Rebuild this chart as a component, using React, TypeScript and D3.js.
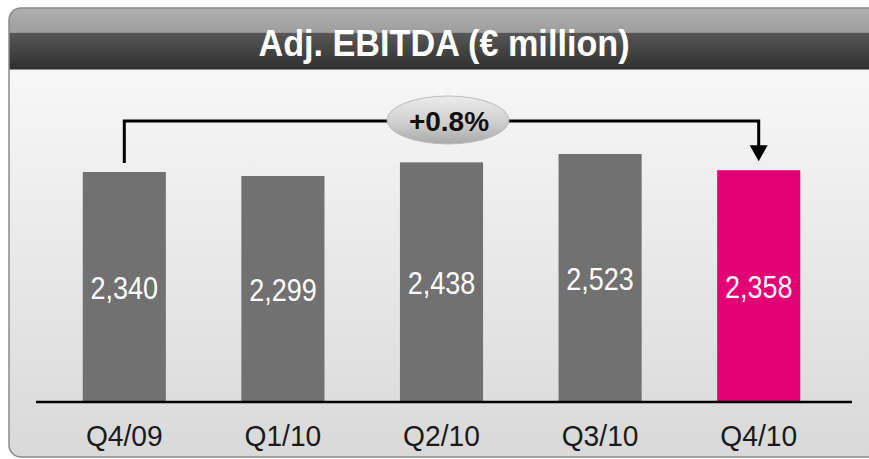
import { useEffect, useRef } from "react";
import { axisBottom, scaleBand, scaleLinear, select, format } from "d3";

const categories = ["Q4/09", "Q1/10", "Q2/10", "Q3/10", "Q4/10"];
const values = [2340, 2299, 2438, 2523, 2358];
const changeLabel = "+0.8%";
const title = "Adj. EBITDA (€ million)";

const WIDTH = 869;
const HEIGHT = 459;
const SANS = "'Liberation Sans', Arial, sans-serif";

export default function App() {
  const svgRef = useRef<SVGSVGElement | null>(null);

  const drawChart = () => {
    const svg = select(svgRef.current);
    svg.selectAll("*").remove();

    const defs = svg.append("defs");

    const bg = defs
      .append("linearGradient")
      .attr("id", "bg")
      .attr("x1", 0)
      .attr("y1", 0)
      .attr("x2", 0)
      .attr("y2", 1);
    bg.append("stop").attr("offset", "0%").attr("stop-color", "#fcfcfc");
    bg.append("stop").attr("offset", "100%").attr("stop-color", "#d9d9d9");

    const head = defs
      .append("linearGradient")
      .attr("id", "head")
      .attr("x1", 0)
      .attr("y1", 0)
      .attr("x2", 0)
      .attr("y2", 1);
    head.append("stop").attr("offset", "0%").attr("stop-color", "#b0b0b0");
    head.append("stop").attr("offset", "40%").attr("stop-color", "#9e9e9e");
    head.append("stop").attr("offset", "41%").attr("stop-color", "#575757");
    head.append("stop").attr("offset", "100%").attr("stop-color", "#303030");

    const pill = defs
      .append("linearGradient")
      .attr("id", "pill")
      .attr("x1", 0)
      .attr("y1", 0)
      .attr("x2", 0)
      .attr("y2", 1);
    pill.append("stop").attr("offset", "0%").attr("stop-color", "#ececec");
    pill.append("stop").attr("offset", "55%").attr("stop-color", "#cfcfcf");
    pill.append("stop").attr("offset", "100%").attr("stop-color", "#a9a9a9");

    defs
      .append("clipPath")
      .attr("id", "frameClip")
      .append("rect")
      .attr("x", 9)
      .attr("y", 8)
      .attr("width", 880)
      .attr("height", 449)
      .attr("rx", 12);

    // frame
    svg
      .append("rect")
      .attr("x", 9)
      .attr("y", 8)
      .attr("width", 880)
      .attr("height", 449)
      .attr("rx", 12)
      .attr("fill", "url(#bg)");

    // title bar
    svg
      .append("rect")
      .attr("x", 9)
      .attr("y", 8)
      .attr("width", 880)
      .attr("height", 61)
      .attr("fill", "url(#head)")
      .attr("clip-path", "url(#frameClip)");
    svg
      .append("line")
      .attr("x1", 9)
      .attr("x2", 880)
      .attr("y1", 69)
      .attr("y2", 69)
      .attr("stroke", "#2a2a2a")
      .attr("stroke-width", 1);
    svg
      .append("rect")
      .attr("x", 9)
      .attr("y", 8)
      .attr("width", 880)
      .attr("height", 449)
      .attr("rx", 12)
      .attr("fill", "none")
      .attr("stroke", "#8a8a8a")
      .attr("stroke-width", 1.5);

    svg
      .append("text")
      .attr("transform", "translate(444,56) scale(0.95,1)")
      .attr("text-anchor", "middle")
      .attr("fill", "#fff")
      .style("font-family", SANS)
      .style("font-weight", "bold")
      .style("font-size", "36px")
      .text(title);

    // scales
    const x = scaleBand<string>()
      .domain(categories)
      .range([45, 838])
      .paddingInner(0.476)
      .paddingOuter(0.238);
    const baseY = 402;
    const y = scaleLinear().domain([0, 2523]).range([baseY, 154]);
    const fmt = format(",");

    const g = svg.append("g");

    g.selectAll(".bar")
      .data(values)
      .enter()
      .append("rect")
      .attr("class", "bar")
      .attr("x", (_, i) => x(categories[i]) || 0)
      .attr("y", (d) => y(d))
      .attr("width", x.bandwidth())
      .attr("height", (d) => baseY - y(d))
      .attr("fill", (_, i) => (i === values.length - 1 ? "#e20074" : "#717171"));

    g.selectAll(".val")
      .data(values)
      .enter()
      .append("text")
      .attr("class", "val")
      .attr(
        "transform",
        (d, i) =>
          `translate(${(x(categories[i]) || 0) + x.bandwidth() / 2},${(y(d) + baseY) / 2 + 12}) scale(0.87,1)`
      )
      .attr("text-anchor", "middle")
      .attr("fill", "#fff")
      .style("font-family", SANS)
      .style("font-size", "31px")
      .text((d) => fmt(d));

    // x axis
    const xAxis = g
      .append("g")
      .attr("transform", `translate(0, ${baseY})`)
      .call(axisBottom(x).tickSize(0).tickPadding(23));
    xAxis.select(".domain").remove();
    xAxis
      .selectAll(".tick text")
      .attr("fill", "#1a1a1a")
      .attr("transform", "scale(0.94,1)")
      .style("font-family", SANS)
      .style("font-size", "30px");
    g.append("line")
      .attr("x1", 36)
      .attr("x2", 852)
      .attr("y1", baseY)
      .attr("y2", baseY)
      .attr("stroke", "#000")
      .attr("stroke-width", 2.5);

    // change bracket
    const first = values[0];
    const last = values[values.length - 1];
    const x0 = (x(categories[0]) || 0) + x.bandwidth() / 2;
    const x1 = (x(categories[categories.length - 1]) || 0) + x.bandwidth() / 2;
    const topY = y(Math.max(...values)) - 33;
    const tipY = y(last) - 9;

    g.append("path")
      .attr("d", `M${x0},${y(first) - 9}V${topY}H${x1}V${tipY - 14}`)
      .attr("fill", "none")
      .attr("stroke", "#000")
      .attr("stroke-width", 3);
    g.append("path")
      .attr("d", `M${x1 - 9},${tipY - 16}L${x1 + 9},${tipY - 16}L${x1},${tipY}Z`)
      .attr("fill", "#000");

    const cx = 448;
    g.append("ellipse")
      .attr("cx", cx)
      .attr("cy", topY - 1)
      .attr("rx", 61)
      .attr("ry", 24)
      .attr("fill", "url(#pill)")
      .attr("stroke", "#bdbdbd")
      .attr("stroke-width", 1);
    g.append("text")
      .attr("x", cx + 1)
      .attr("y", topY + 10)
      .attr("text-anchor", "middle")
      .attr("fill", "#111")
      .style("font-family", SANS)
      .style("font-weight", "bold")
      .style("font-size", "28px")
      .text(changeLabel);
  };

  useEffect(() => {
    drawChart();
    // eslint-disable-next-line react-hooks/exhaustive-deps
  }, []);

  return (
    <svg
      ref={svgRef}
      width={WIDTH}
      height={HEIGHT}
      style={{ position: "fixed", top: 0, left: 0, background: "#fff" }}
    ></svg>
  );
}
